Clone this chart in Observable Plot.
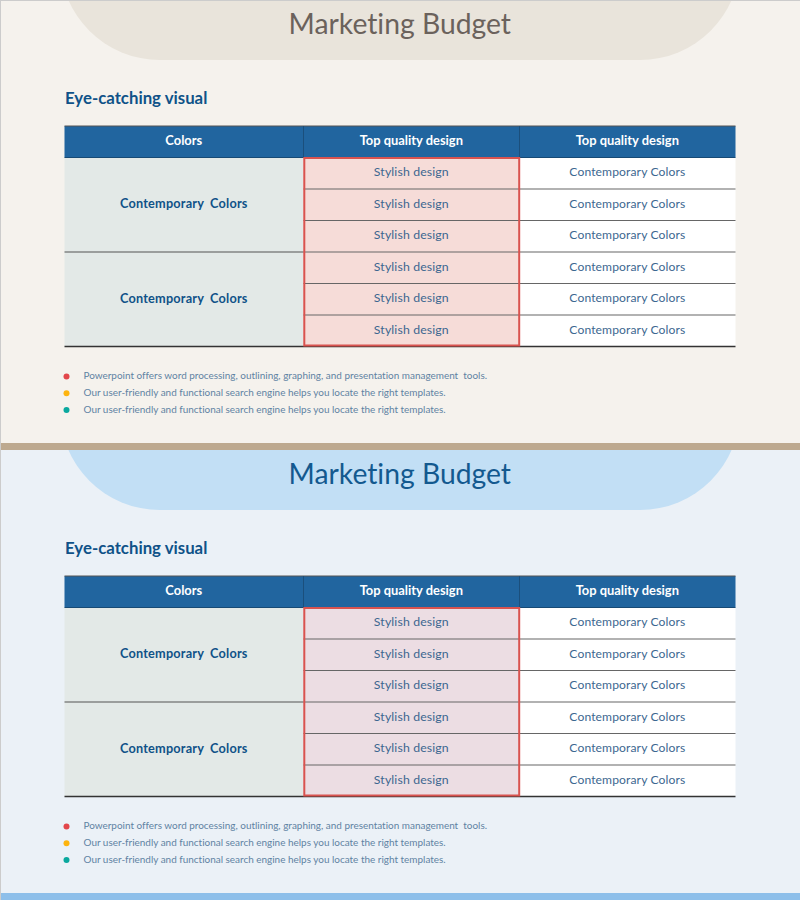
<!DOCTYPE html>
<html>
<head>
<meta charset="utf-8">
<script src="https://cdn.jsdelivr.net/npm/d3@7"></script>
<script src="https://cdn.jsdelivr.net/npm/@observablehq/plot@0.6"></script>
<style>
html,body{margin:0;padding:0;background:#f5f2ed;}
svg{display:block;font-variant-ligatures:none;}
svg text{font-variant-ligatures:none;}
.grp{word-spacing:3px;letter-spacing:.2px;}
.row{letter-spacing:.12px;}
.note{white-space:pre;}
</style>
</head>
<body>
<div id="chart"></div>
<script>
// Content
const titleText = "Marketing Budget";
const subtitleText = "Eye-catching visual";
const headers = ["Colors", "Top quality design", "Top quality design"];
const groupLabels = ["Contemporary Colors", "Contemporary Colors"];
const middleLabels = ["Stylish design","Stylish design","Stylish design","Stylish design","Stylish design","Stylish design"];
const rightLabels = ["Contemporary Colors","Contemporary Colors","Contemporary Colors","Contemporary Colors","Contemporary Colors","Contemporary Colors"];
const notes = [
  "Powerpoint offers word processing, outlining, graphing, and presentation management  tools.",
  "Our user-friendly and functional search engine helps you locate the right templates.",
  "Our user-friendly and functional search engine helps you locate the right templates."
];
// Palette
const noteColors = ["#e2474b", "#fdb40f", "#0aa89e"];
const panelBg = ["#f5f2ed", "#ebf1f7"];
const panelBand = ["#bda98f", "#8dbfea"];
const capFill = ["#e9e4db", "#c2dff5"];
const titleColor = ["#6b625c", "#13598f"];
const pinkFill = ["#f6dcd8", "#ecdde3"];
// Layout
const W = 800, H = 900, panelH = 450, bandH = 7;
const colEdges = [64.5, 303.5, 519.5, 735.5];
const headTop = 126, headBot = 157.5, rowH = 31.5, rowCount = 6;
const textShift = -0.7;
const sans = "Lato, 'Open Sans', sans-serif";
const blue = "#0f5288", rowText = "#3c6790", head = "#21659f";

const mid = i => (colEdges[i] + colEdges[i + 1]) / 2 + textShift;
const rowEdge = i => headBot + i * rowH;
const idx = d3.range(2);

const marks = [];
// panels are painted bottom first so panel 2's cap is covered by panel 1
for (const p of [1, 0]) {
  const o = p * panelH;
  marks.push(
    Plot.rect([p], {x1: 0, x2: W, y1: o, y2: o + panelH - bandH, fill: panelBg[p]}),
    Plot.rect([p], {x1: 60, x2: 740, y1: o - 200, y2: o + 60, r: 100, fill: capFill[p]}),
    Plot.rect([p], {x1: 0, x2: W, y1: o + panelH - bandH, y2: o + panelH, fill: panelBand[p]})
  );
}
for (const p of idx) {
  const o = p * panelH;
  marks.push(
    Plot.text([titleText], {x: W / 2 + textShift, y: o + 24, text: d => d, fontSize: 28.3, fontFamily: sans, fill: titleColor[p]}),
    Plot.text([subtitleText], {x: colEdges[0], y: o + 98, text: d => d, textAnchor: "start", fontSize: 16.8, fontWeight: 700, fontFamily: sans, fill: blue}),
    // header
    Plot.rect(headers, {x1: (d, i) => colEdges[i], x2: (d, i) => colEdges[i + 1], y1: o + headTop, y2: o + headBot, fill: head}),
    Plot.text(headers, {x: (d, i) => mid(i), y: o + 140.5, text: d => d, fill: "#fff", fontWeight: 700, fontSize: 12.9, fontFamily: sans}),
    // body fills
    Plot.rect(groupLabels, {x1: colEdges[0], x2: colEdges[1], y1: (d, i) => o + rowEdge(i * 3), y2: (d, i) => o + rowEdge(i * 3 + 3), fill: "#e3e9e7"}),
    Plot.rect(middleLabels, {x1: colEdges[1], x2: colEdges[2], y1: (d, i) => o + rowEdge(i), y2: (d, i) => o + rowEdge(i + 1), fill: pinkFill[p]}),
    Plot.rect(rightLabels, {x1: colEdges[2], x2: colEdges[3], y1: (d, i) => o + rowEdge(i), y2: (d, i) => o + rowEdge(i + 1), fill: "#fff"}),
    // rules
    Plot.ruleY([o + headTop - 0.5], {x1: colEdges[0], x2: colEdges[3], stroke: "#555", strokeWidth: 1}),
    Plot.ruleX([colEdges[1] - 0.5], {y1: o + headTop, y2: o + headBot, stroke: "#1b4f7c", strokeWidth: 1}),
    Plot.ruleX([colEdges[2] - 0.5], {y1: o + headTop, y2: o + headBot, stroke: "#1b4f7c", strokeWidth: 1}),
    Plot.ruleY([o + headBot - 0.5], {x1: colEdges[0], x2: colEdges[3], stroke: "#174a75", strokeWidth: 1}),
    Plot.ruleY(d3.range(1, rowCount), {y: i => o + rowEdge(i) - 0.5, x1: colEdges[1], x2: colEdges[3], stroke: "#666", strokeWidth: 1.2}),
    Plot.ruleY([o + rowEdge(3) - 0.5], {x1: colEdges[0], x2: colEdges[1], stroke: "#555", strokeWidth: 1.2}),
    Plot.ruleY([o + rowEdge(rowCount) - 0.5], {x1: colEdges[0], x2: colEdges[3], stroke: "#333", strokeWidth: 1.3}),
    // highlight box
    Plot.rect([p], {x1: colEdges[1] + 0.8, x2: colEdges[2] - 0.3, y1: o + headBot + 0.5, y2: o + rowEdge(rowCount) - 1, stroke: "#d9534f", strokeWidth: 2, fill: "none"}),
    // text
    Plot.text(groupLabels, {x: mid(0), y: (d, i) => o + rowEdge(i * 3 + 1.5) - 1.3, text: d => d, fontWeight: 700, fontSize: 12.7, fontFamily: sans, fill: blue, className: "grp"}),
    Plot.text(middleLabels, {x: mid(1), y: (d, i) => o + rowEdge(i + 0.5) - 1.5, text: d => d, fontSize: 12.3, fontFamily: sans, fill: rowText, className: "row"}),
    Plot.text(rightLabels, {x: mid(2), y: (d, i) => o + rowEdge(i + 0.5) - 1.5, text: d => d, fontSize: 12.1, fontFamily: sans, fill: rowText, className: "row"}),
    // notes
    Plot.dot(notes, {x: 66, y: (d, i) => o + 376 + i * 16.7, r: 3, fill: (d, i) => noteColors[i], stroke: null}),
    Plot.text(notes, {x: 83, y: (d, i) => o + 375.5 + i * 16.7, text: d => d, textAnchor: "start", fontSize: 9.95, fontFamily: sans, fill: "#5f83a3", className: "note"})
  );
}
// page edge
marks.push(
  Plot.ruleX([0], {y1: 0, y2: H, stroke: "#ccc", strokeWidth: 1}),
  Plot.ruleY([0], {x1: 0, x2: W, stroke: "#ccc", strokeWidth: 1})
);

const chart = Plot.plot({
  width: W, height: H,
  marginTop: 0, marginRight: 0, marginBottom: 0, marginLeft: 0,
  x: {domain: [0, W], range: [0, W], axis: null},
  y: {domain: [0, H], range: [0, H], axis: null},
  style: {background: "transparent"},
  marks
});
document.getElementById("chart").appendChild(chart);
</script>
</body>
</html>
